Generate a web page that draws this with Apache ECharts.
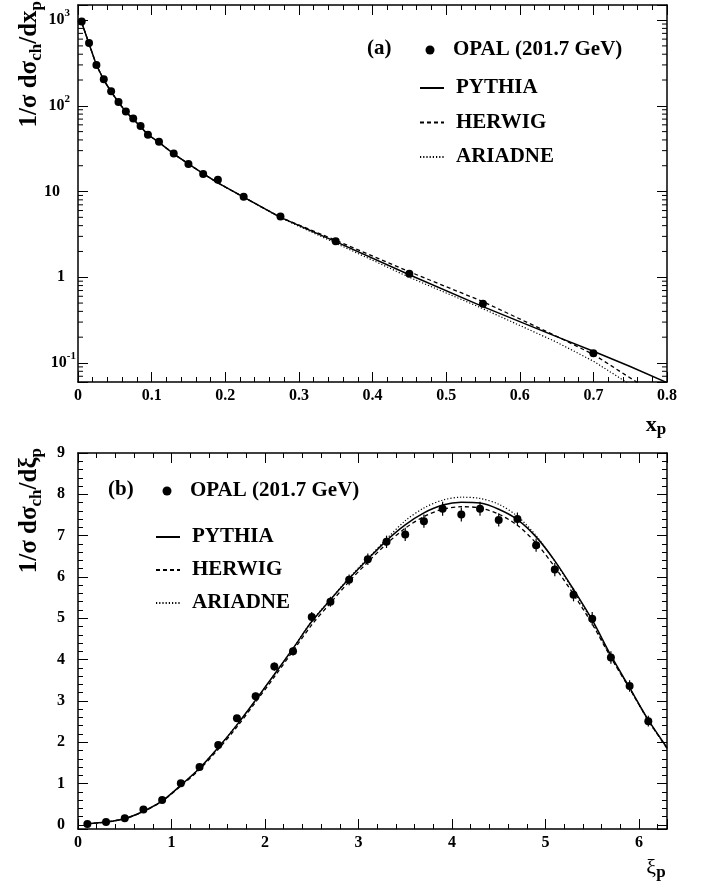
<!DOCTYPE html>
<html>
<head>
<meta charset="utf-8">
<script src="https://cdn.jsdelivr.net/npm/echarts@6/dist/echarts.min.js"></script>
<style>
  html, body { margin: 0; padding: 0; background: #fff; }
  #chart { width: 705px; height: 889px; }
</style>
</head>
<body>
<div id="chart"></div>
<script>
// (a) x_p spectrum, log scale
const xpPoints = [0.005, 0.015, 0.025, 0.035, 0.045, 0.055, 0.065, 0.075, 0.085, 0.095,
  0.11, 0.13, 0.15, 0.17, 0.19, 0.225, 0.275, 0.35, 0.45, 0.55, 0.70]
const opalXp = [960, 540, 300, 204, 148, 111, 86, 71, 58, 46,
  38, 27.8, 21, 16, 13.7, 8.7, 5.1, 2.63, 1.1, 0.49, 0.13]

const xpCurve = [0.005, 0.015, 0.025, 0.035, 0.045, 0.055, 0.065, 0.075, 0.085, 0.095,
  0.11, 0.13, 0.15, 0.17, 0.19, 0.225, 0.275, 0.35, 0.45, 0.55, 0.65, 0.70, 0.75, 0.80]
const pythiaXp = [940, 530, 300, 200, 146, 110, 85, 70, 57, 46,
  37.5, 27.5, 21, 16.2, 12.6, 8.6, 5.0, 2.6, 1.07, 0.455, 0.203, 0.137, 0.091, 0.059]
const herwigXp = [940, 530, 300, 200, 146, 110, 85, 70, 57, 46,
  37.5, 27.5, 21, 16.2, 12.6, 8.6, 5.0, 2.7, 1.16, 0.52, 0.205, 0.126, 0.067, 0.036]
const ariadneXp = [940, 530, 300, 200, 146, 110, 85, 70, 57, 46,
  37.5, 27.5, 21, 16.2, 12.6, 8.6, 4.95, 2.5, 1.0, 0.43, 0.175, 0.105, 0.056, 0.030]

// minor ticks of the log axis (2..9 x 10^k)
const logMinorTicks = [0.07, 0.08, 0.09, 0.2, 0.3, 0.4, 0.5, 0.6, 0.7, 0.8, 0.9,
  2, 3, 4, 5, 6, 7, 8, 9, 20, 30, 40, 50, 60, 70, 80, 90,
  200, 300, 400, 500, 600, 700, 800, 900]

// (b) xi_p spectrum
const xiPoints = [0.1, 0.3, 0.5, 0.7, 0.9, 1.1, 1.3, 1.5, 1.7, 1.9, 2.1, 2.3, 2.5, 2.7, 2.9,
  3.1, 3.3, 3.5, 3.7, 3.9, 4.1, 4.3, 4.5, 4.7, 4.9, 5.1, 5.3, 5.5, 5.7, 5.9, 6.1]
const opalXi = [0.02, 0.07, 0.16, 0.37, 0.60, 1.01, 1.40, 1.93, 2.58, 3.11, 3.83, 4.20, 5.03, 5.40, 5.93,
  6.43, 6.85, 7.03, 7.35, 7.65, 7.51, 7.65, 7.38, 7.40, 6.77, 6.18, 5.57, 4.99, 4.05, 3.36, 2.51]
const opalXiErr = [0.01, 0.01, 0.02, 0.03, 0.04, 0.05, 0.06, 0.07, 0.08, 0.09, 0.10, 0.10, 0.12, 0.12, 0.13,
  0.14, 0.15, 0.16, 0.16, 0.17, 0.17, 0.17, 0.16, 0.16, 0.16, 0.16, 0.16, 0.16, 0.15, 0.14, 0.13]

const xiCurve = [0.1, 0.3, 0.5, 0.7, 0.9, 1.1, 1.3, 1.5, 1.7, 1.9, 2.1, 2.3, 2.5, 2.7, 2.9,
  3.1, 3.3, 3.5, 3.7, 3.9, 4.1, 4.3, 4.5, 4.7, 4.9, 5.1, 5.3, 5.5, 5.7, 5.9, 6.1, 6.3]
const pythiaXi = [0.03, 0.07, 0.15, 0.33, 0.58, 0.96, 1.37, 1.87, 2.42, 3.02, 3.64, 4.27, 4.92, 5.45, 5.96,
  6.43, 6.88, 7.26, 7.55, 7.74, 7.81, 7.79, 7.64, 7.39, 6.97, 6.39, 5.70, 4.96, 4.10, 3.32, 2.54, 1.87]
const herwigXi = [0.03, 0.07, 0.15, 0.32, 0.57, 0.94, 1.34, 1.83, 2.37, 2.97, 3.58, 4.21, 4.84, 5.37, 5.89,
  6.36, 6.80, 7.18, 7.46, 7.64, 7.70, 7.67, 7.52, 7.25, 6.82, 6.24, 5.58, 4.86, 4.05, 3.30, 2.53, 1.85]
const ariadneXi = [0.03, 0.07, 0.15, 0.33, 0.58, 0.96, 1.37, 1.87, 2.42, 3.02, 3.64, 4.27, 4.93, 5.46, 5.98,
  6.45, 6.92, 7.36, 7.67, 7.86, 7.93, 7.90, 7.76, 7.47, 7.00, 6.38, 5.66, 4.92, 4.06, 3.30, 2.52, 1.86]

const FONT = 'Liberation Serif'
const zip = (xs, ys) => xs.map((x, i) => [x, ys[i]])

const black = { color: '#000', width: 1.5 }
const tickStyle = { color: '#000', width: 1 }
const labelStyle = { fontFamily: FONT, fontWeight: 'bold', fontSize: 16, color: '#000' }

function xAxisCfg(grid, pos, min, max, interval, showLabel) {
  return {
    gridIndex: grid, type: 'value', position: pos, min: min, max: max, interval: interval,
    axisLine: { show: true, onZero: false, lineStyle: black },
    axisTick: { show: true, inside: true, length: 10, lineStyle: tickStyle },
    minorTick: { show: true, splitNumber: 5, length: 5, lineStyle: tickStyle },
    splitLine: { show: false },
    axisLabel: {
      show: showLabel, margin: 6, ...labelStyle,
      formatter: (v) => (Math.abs(v / interval - Math.round(v / interval)) > 1e-6 ? '' : String(+v.toFixed(1)))
    }
  }
}

function logAxisCfg(pos, showLabel) {
  return {
    gridIndex: 0, type: 'log', logBase: 10, position: pos, min: 0.06, max: 1500,
    axisLine: { show: true, onZero: false, lineStyle: black },
    axisTick: { show: true, inside: true, length: 10, lineStyle: tickStyle },
    splitLine: { show: false },
    axisLabel: {
      show: showLabel, margin: 2, ...labelStyle,
      formatter: function (v) {
        const l = Math.log10(v)
        const e = Math.round(l)
        if (Math.abs(l - e) > 1e-6) return ''
        if (e === 0) return '{p11|1}'
        if (e === 1) return '{p16|10}'
        return '{b|10}' + (e > 0 ? '{s|' + e + '}' : '{sn|' + e + '}')
      },
      rich: {
        b: { ...labelStyle, lineHeight: 24 },
        s: { ...labelStyle, fontSize: 11, lineHeight: 8, verticalAlign: 'top', padding: [0, 6, 0, 0] },
        sn: { ...labelStyle, fontSize: 11, lineHeight: 8, verticalAlign: 'top' },
        p16: { ...labelStyle, padding: [0, 16, 0, 0] },
        p11: { ...labelStyle, padding: [0, 11, 0, 0] }
      }
    }
  }
}

function linAxisCfg(pos, showLabel) {
  return {
    gridIndex: 1, type: 'value', position: pos, min: -0.1, max: 9, splitNumber: 9,
    axisLine: { show: true, onZero: false, lineStyle: black },
    axisTick: { show: true, inside: true, length: 10, lineStyle: tickStyle },
    minorTick: { show: true, splitNumber: 5, length: 5, lineStyle: tickStyle },
    splitLine: { show: false },
    axisLabel: {
      show: showLabel, margin: 13, ...labelStyle,
      formatter: (v) => (Math.abs(v - Math.round(v)) > 1e-6 ? '' : String(Math.round(v)))
    }
  }
}

function curve(name, xi, yi, data, type, width, smooth) {
  return {
    name: name, type: 'line', xAxisIndex: xi, yAxisIndex: yi, data: data,
    symbol: 'none', showSymbol: false, smooth: smooth, z: 2,
    lineStyle: { color: '#000', width: width, type: type }, itemStyle: { color: '#000' }
  }
}

function points(xi, yi, data) {
  return {
    name: 'OPAL (201.7 GeV)', type: 'scatter', xAxisIndex: xi, yAxisIndex: yi, data: data,
    symbol: 'circle', symbolSize: 8, itemStyle: { color: '#000', opacity: 1 }, z: 4
  }
}

const legendText = { fontFamily: FONT, fontWeight: 'bold', fontSize: 21, color: '#000', lineHeight: 24 }
const titleRich = {
  sub: { fontFamily: FONT, fontWeight: 'bold', fontSize: 17, lineHeight: 17, verticalAlign: 'bottom', fill: '#000' }
}

function lineLegend(left, top, gap) {
  return {
    data: ['PYTHIA', 'HERWIG', 'ARIADNE'], orient: 'vertical', left: left, top: top, padding: 0,
    itemWidth: 24, itemHeight: 14, itemGap: gap, selectedMode: false,
    itemStyle: { opacity: 0 },
    textStyle: { ...legendText, padding: [0, 0, 0, 7] }
  }
}

function pointLegend(left, top) {
  return {
    data: ['OPAL (201.7 GeV)'], left: left, top: top, padding: 0, itemWidth: 9, itemHeight: 9,
    selectedMode: false, itemStyle: { color: '#000', opacity: 1 },
    textStyle: { ...legendText, padding: [0, 0, 0, 13.5] }
  }
}

const chart = echarts.init(document.getElementById('chart'))
chart.setOption({
  animation: false,
  backgroundColor: '#fff',
  textStyle: { fontFamily: FONT },
  grid: [
    { left: 78, top: 5, width: 589, height: 377 },
    { left: 78, top: 453, width: 589, height: 376 }
  ],
  xAxis: [
    xAxisCfg(0, 'bottom', 0, 0.8, 0.1, true),
    xAxisCfg(0, 'top', 0, 0.8, 0.1, false),
    xAxisCfg(1, 'bottom', 0, 6.3, 1, true),
    xAxisCfg(1, 'top', 0, 6.3, 1, false)
  ],
  yAxis: [
    logAxisCfg('left', true),
    logAxisCfg('right', false),
    linAxisCfg('left', true),
    linAxisCfg('right', false)
  ],
  legend: [
    pointLegend(425.5, 38),
    lineLegend(419, 76, 10.5),
    pointLegend(162.5, 479),
    lineLegend(155, 525, 9)
  ],
  graphic: [
    { type: 'text', left: 367, top: 38, style: { text: '(a)', font: 'bold 21px "Liberation Serif"', fill: '#000' } },
    { type: 'text', left: 108, top: 479, style: { text: '(b)', font: 'bold 21px "Liberation Serif"', fill: '#000' } },
    { type: 'text', x: 30, y: 1, rotation: Math.PI / 2,
      style: { text: '1/σ dσ{sub|ch}/dx{sub|p}', font: 'bold 25px "Liberation Serif"', lineHeight: 30,
        align: 'right', verticalAlign: 'middle', fill: '#000', rich: titleRich } },
    { type: 'text', x: 30, y: 448, rotation: Math.PI / 2,
      style: { text: '1/σ dσ{sub|ch}/dξ{sub|p}', font: 'bold 25px "Liberation Serif"', lineHeight: 30,
        align: 'right', verticalAlign: 'middle', fill: '#000', rich: titleRich } },
    { type: 'text', x: 656, y: 425,
      style: { text: 'x{sub|p}', font: 'bold 22px "Liberation Serif"', lineHeight: 26,
        align: 'center', verticalAlign: 'middle', fill: '#000', rich: titleRich } },
    { type: 'text', x: 656, y: 868,
      style: { text: 'ξ{sub|p}', font: '22px "Liberation Serif"', lineHeight: 26,
        align: 'center', verticalAlign: 'middle', fill: '#000', rich: titleRich } }
  ],
  series: [
    curve('PYTHIA', 0, 0, zip(xpCurve, pythiaXp), 'solid', 1.5, false),
    curve('HERWIG', 0, 0, zip(xpCurve, herwigXp), [4, 3], 1.3, false),
    curve('ARIADNE', 0, 0, zip(xpCurve, ariadneXp), [1.2, 2], 1.2, false),
    points(0, 0, zip(xpPoints, opalXp)),
    {
      // log minor ticks on both sides of panel (a)
      type: 'custom', xAxisIndex: 0, yAxisIndex: 0, silent: true, z: 5,
      data: logMinorTicks.map((v) => [0, v]),
      renderItem: function (params, api) {
        const v = api.value(1)
        const l = api.coord([0, v])
        const r = api.coord([0.8, v])
        return {
          type: 'group',
          children: [
            { type: 'line', shape: { x1: l[0], y1: l[1], x2: l[0] + 5, y2: l[1] }, style: { stroke: '#000', lineWidth: 1 } },
            { type: 'line', shape: { x1: r[0] - 5, y1: r[1], x2: r[0], y2: r[1] }, style: { stroke: '#000', lineWidth: 1 } }
          ]
        }
      }
    },
    curve('PYTHIA', 2, 2, zip(xiCurve, pythiaXi), 'solid', 1.5, 0.3),
    curve('HERWIG', 2, 2, zip(xiCurve, herwigXi), [4, 3], 1.3, 0.3),
    curve('ARIADNE', 2, 2, zip(xiCurve, ariadneXi), [1.2, 2], 1.2, 0.3),
    {
      // error bars of panel (b)
      type: 'custom', xAxisIndex: 2, yAxisIndex: 2, silent: true, z: 3,
      data: xiPoints.map((x, i) => [x, opalXi[i] - opalXiErr[i], opalXi[i] + opalXiErr[i]]),
      encode: { x: 0, y: [1, 2] },
      renderItem: function (params, api) {
        const lo = api.coord([api.value(0), api.value(1)])
        const hi = api.coord([api.value(0), api.value(2)])
        return { type: 'line', shape: { x1: lo[0], y1: lo[1], x2: hi[0], y2: hi[1] }, style: { stroke: '#000', lineWidth: 1.2 } }
      }
    },
    points(2, 2, zip(xiPoints, opalXi))
  ]
})
</script>
</body>
</html>
